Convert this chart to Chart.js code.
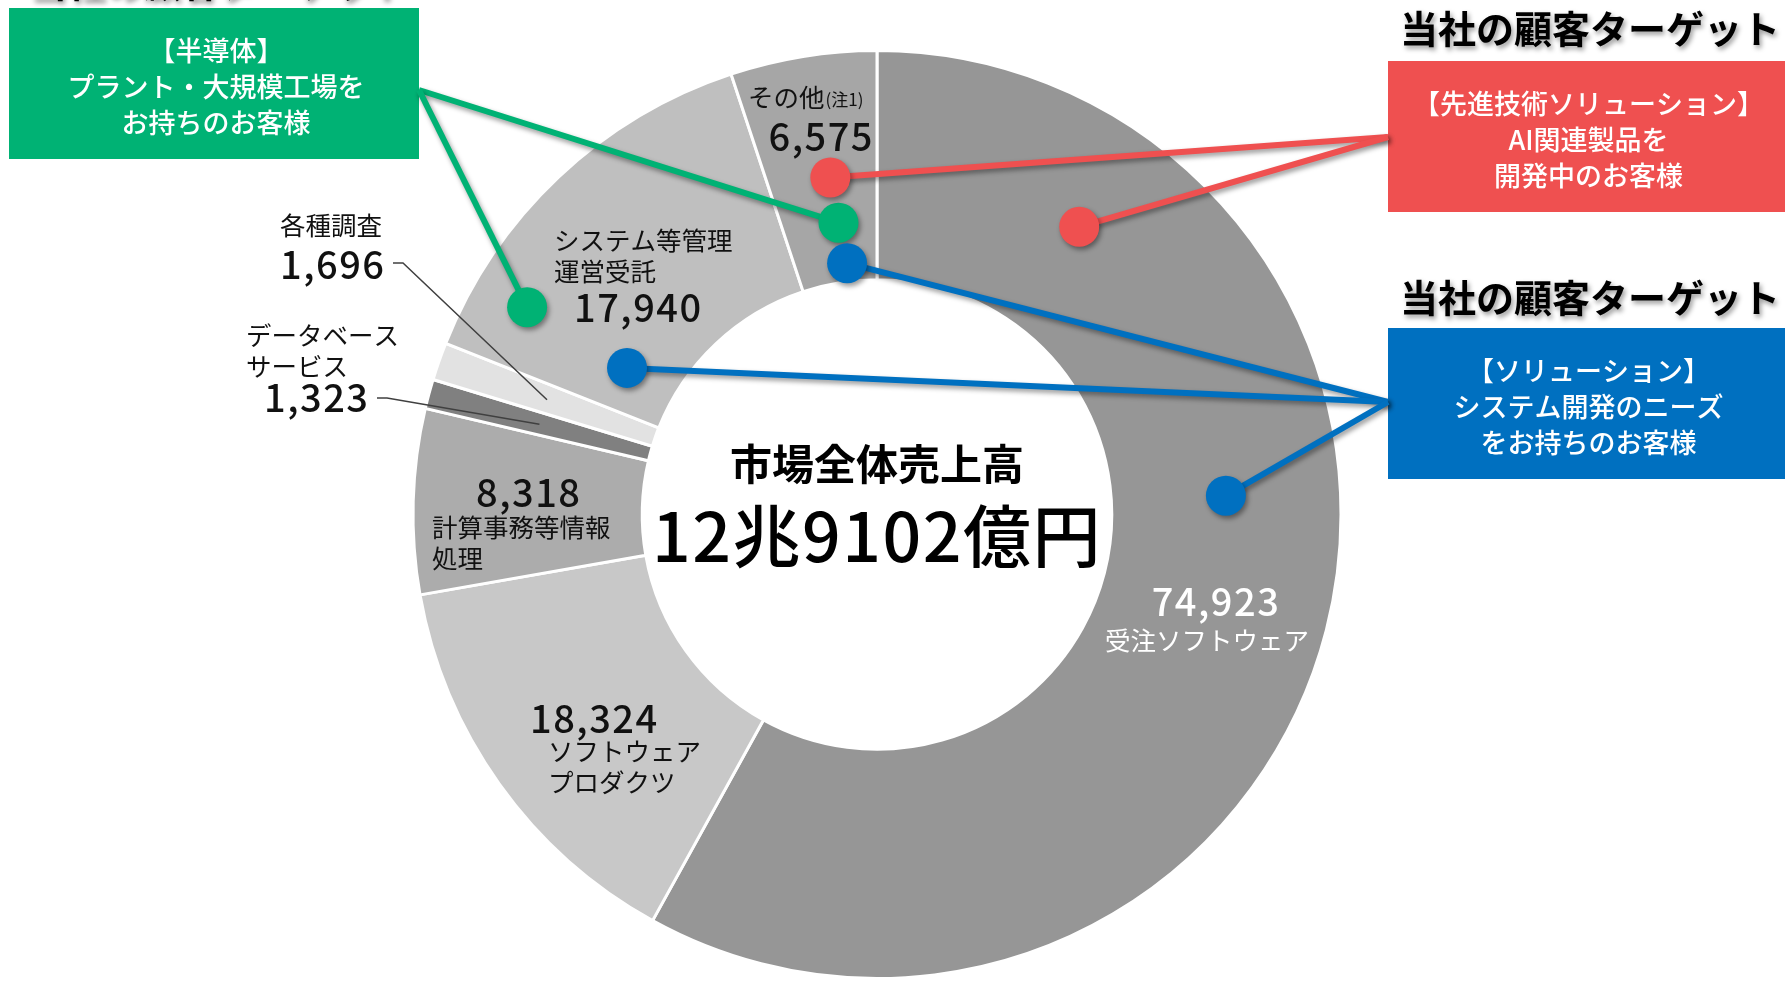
<!DOCTYPE html>
<html lang="ja">
<head>
<meta charset="utf-8">
<title>市場全体売上高</title>
<script src="https://cdn.jsdelivr.net/npm/chart.js@4/dist/chart.umd.min.js"></script>
<style>
  html, body { margin: 0; padding: 0; background: #fff; overflow: hidden; }
  canvas { display: block; }
</style>
</head>
<body>
<canvas id="market-chart" width="1785" height="981"></canvas>
<script>
// data (億円)
const categories = ["受注ソフトウェア", "ソフトウェアプロダクツ", "計算事務等情報処理", "データベースサービス", "各種調査", "システム等管理運営受託", "その他"];
const sales = [74923, 18324, 8318, 1323, 1696, 17940, 6575];
const labelLines = [["受注ソフトウェア"], ["ソフトウェア", "プロダクツ"], ["計算事務等情報", "処理"], ["データベース", "サービス"], ["各種調査"], ["システム等管理", "運営受託"], ["その他"]];
const centerTitle = "市場全体売上高";
const centerTotal = "12兆9102億円";
const targetTitle = "当社の顧客ターゲット";
const greenText = ["【半導体】", "プラント・大規模工場を", "お持ちのお客様"];
const redText = ["【先進技術ソリューション】", "AI関連製品を", "開発中のお客様"];
const blueText = ["【ソリューション】", "システム開発のニーズ", "をお持ちのお客様"];

const sliceColors = ["#969696", "#c8c8c8", "#acacac", "#808080", "#e2e2e2", "#bfbfbf", "#a6a6a6"];
const FONT = '"Noto Sans CJK JP", "Noto Sans", sans-serif';

// where each slice's texts sit
const labelPos = [
  { num: [1216, 602, "center"], name: [1207, 640, "center"], color: "#fff" },
  { num: [530, 719, "left"], name: [548, 751, "left"] },
  { num: [476, 493, "left"], name: [432, 527, "left"] },
  { num: [264, 398, "left"], name: [246, 335, "left"], leader: [377, 398, 0.47] },
  { num: [280, 265, "left"], name: [280, 225, "left"], leader: [393, 263, 0.48] },
  { num: [574, 308, "left"], name: [554, 240, "left"] },
  { num: [874, 137, "right"], name: [748, 97, "left"], note: "(注1)" }
];

// callout boxes and the spots on the slices they point to (slice, t along angle, r across ring)
const callouts = [
  { color: "#00b274", box: [9, 8, 410, 151], from: [419, 90], text: greenText,
    dots: [[6, 0.59, 0.26], [5, 0.18, 0.75]] },
  { color: "#ef5050", box: [1388, 61, 397, 151], from: [1388, 137], text: redText,
    dots: [[6, 0.57, 0.46], [0, 0.168, 0.51]] },
  { color: "#0070c0", box: [1388, 328, 397, 151], from: [1388, 402], text: blueText,
    dots: [[6, 0.63, 0.08], [5, 0.175, 0.24], [0, 0.416, 0.5]] }
];

function withShadow(ctx, fn) {
  ctx.save();
  ctx.shadowColor = "rgba(0,0,0,0.4)";
  ctx.shadowBlur = 5;
  ctx.shadowOffsetX = 2;
  ctx.shadowOffsetY = 3;
  fn();
  ctx.restore();
}

const overlay = {
  id: "overlay",
  afterDatasetsDraw(chart) {
    const ctx = chart.ctx;
    const arcs = chart.getDatasetMeta(0).data;
    const spot = (slice, t, r) => {
      const a = arcs[slice];
      const ang = a.startAngle + (a.endAngle - a.startAngle) * t;
      const rad = a.innerRadius + (a.outerRadius - a.innerRadius) * r;
      return [a.x + Math.cos(ang) * rad, a.y + Math.sin(ang) * rad];
    };
    ctx.save();
    ctx.textBaseline = "middle";

    // slice labels
    labelPos.forEach((p, i) => {
      ctx.fillStyle = p.color || "#111";
      ctx.textAlign = p.num[2];
      ctx.font = "500 38px " + FONT;
      ctx.letterSpacing = "1.5px";
      ctx.fillText(sales[i].toLocaleString("en-US"), p.num[0], p.num[1]);
      ctx.letterSpacing = "0px";
      ctx.textAlign = p.name[2];
      ctx.font = "400 25.5px " + FONT;
      labelLines[i].forEach((line, k) => ctx.fillText(line, p.name[0], p.name[1] + k * 31));
      if (p.note) {
        const w = ctx.measureText(labelLines[i][0]).width;
        ctx.font = "400 17px " + FONT;
        ctx.fillText(p.note, p.name[0] + w + 1, p.name[1] + 3);
      }
      if (p.leader) {
        const end = spot(i, p.leader[2], 0.5);
        ctx.strokeStyle = "#404040";
        ctx.lineWidth = 1.5;
        ctx.beginPath();
        ctx.moveTo(p.leader[0], p.leader[1]);
        ctx.lineTo(p.leader[0] + 10, p.leader[1]);
        ctx.lineTo(end[0], end[1]);
        ctx.stroke();
      }
    });

    // centre text
    const cx = arcs[0].x, cy = arcs[0].y;
    ctx.fillStyle = "#000";
    ctx.textAlign = "center";
    ctx.font = "700 42px " + FONT;
    ctx.fillText(centerTitle, cx, cy - 50);
    ctx.font = "500 68px " + FONT;
    ctx.letterSpacing = "1.5px";
    ctx.fillText(centerTotal, cx, cy + 22);
    ctx.letterSpacing = "0px";

    // titles
    withShadow(ctx, () => {
      ctx.fillStyle = "#000";
      ctx.font = "700 38px " + FONT;
      ctx.textAlign = "center";
      ctx.fillText(targetTitle, 219, -17);
      ctx.fillText(targetTitle, 1590, 29);
      ctx.fillText(targetTitle, 1590, 298);
    });

    // callouts
    callouts.forEach(c => {
      ctx.fillStyle = c.color;
      ctx.fillRect(c.box[0], c.box[1], c.box[2], c.box[3]);
      ctx.fillStyle = "#fff";
      ctx.textAlign = "center";
      ctx.font = "500 27px " + FONT;
      const mid = c.box[1] + c.box[3] / 2;
      c.text.forEach((line, k) => ctx.fillText(line, c.box[0] + c.box[2] / 2 + 2, mid + 3 + (k - 1) * 36));
      const pts = c.dots.map(d => spot(d[0], d[1], d[2]));
      withShadow(ctx, () => {
        ctx.strokeStyle = c.color;
        ctx.lineWidth = 6;
        pts.forEach(p => {
          ctx.beginPath();
          ctx.moveTo(c.from[0], c.from[1]);
          ctx.lineTo(p[0], p[1]);
          ctx.stroke();
        });
      });
      withShadow(ctx, () => {
        ctx.fillStyle = c.color;
        pts.forEach(p => {
          ctx.beginPath();
          ctx.arc(p[0], p[1], 20, 0, Math.PI * 2);
          ctx.fill();
        });
      });
    });
    ctx.restore();
  }
};

new Chart(document.getElementById("market-chart").getContext("2d"), {
  type: "doughnut",
  data: {
    labels: categories,
    datasets: [{
      data: sales,
      backgroundColor: sliceColors,
      borderColor: "#fff",
      borderWidth: 3
    }]
  },
  options: {
    responsive: false,
    animation: false,
    cutout: "50.6%",
    layout: { padding: { top: 49, bottom: 1, left: 0, right: 31 } },
    plugins: { legend: { display: false }, tooltip: { enabled: false } }
  },
  plugins: [overlay]
});
</script>
</body>
</html>
